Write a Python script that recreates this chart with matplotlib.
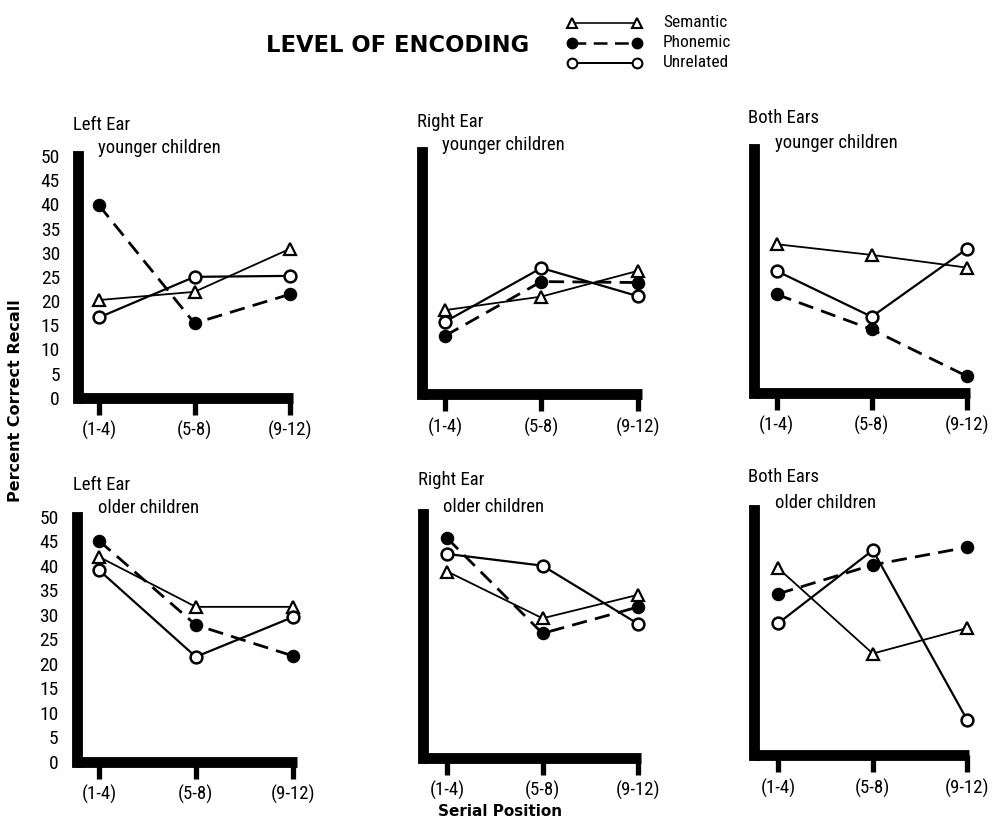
import matplotlib
matplotlib.use('Agg')
import matplotlib.pyplot as plt
from matplotlib import font_manager as fm

# ---------------- data ----------------
categories = ['(1-4)', '(5-8)', '(9-12)']
y_ticks = [0, 5, 10, 15, 20, 25, 30, 35, 40, 45, 50]
y_tick_labels = [str(v) for v in y_ticks]
series_names = ['Semantic', 'Phonemic', 'Unrelated']
ear_labels = ['Left Ear', 'Right Ear', 'Both Ears']
age_labels = ['younger children', 'older children']

left_young_semantic = [20.2, 21.9, 30.8]
left_young_phonemic = [39.8, 15.4, 21.4]
left_young_unrelated = [16.6, 25.0, 25.2]
right_young_semantic = [17.3, 20.1, 25.4]
right_young_phonemic = [12.0, 23.2, 23.0]
right_young_unrelated = [14.9, 26.0, 20.2]
both_young_semantic = [30.5, 28.3, 25.7]
both_young_phonemic = [20.2, 13.0, 3.4]
both_young_unrelated = [25.0, 15.6, 29.5]

left_old_semantic = [41.8, 31.6, 31.6]
left_old_phonemic = [45.1, 27.9, 21.6]
left_old_unrelated = [39.1, 21.4, 29.5]
right_old_semantic = [38.2, 28.6, 33.4]
right_old_phonemic = [45.0, 25.5, 30.9]
right_old_unrelated = [41.8, 39.4, 27.5]
both_old_semantic = [38.1, 20.7, 25.9]
both_old_phonemic = [32.9, 38.8, 42.4]
both_old_unrelated = [26.9, 41.8, 7.1]

panels_data = [
    [(left_young_semantic, left_young_phonemic, left_young_unrelated),
     (right_young_semantic, right_young_phonemic, right_young_unrelated),
     (both_young_semantic, both_young_phonemic, both_young_unrelated)],
    [(left_old_semantic, left_old_phonemic, left_old_unrelated),
     (right_old_semantic, right_old_phonemic, right_old_unrelated),
     (both_old_semantic, both_old_phonemic, both_old_unrelated)],
]

# ---------------- fonts ----------------
names = {f.name for f in fm.fontManager.ttflist}
COND = None
for cand in ['Liberation Sans Narrow', 'Roboto Condensed', 'Open Sans Condensed', 'DejaVu Sans']:
    if cand in names:
        COND = cand
        break
COND_FAM = [COND, 'DejaVu Sans']
BOLD_FAM = ['DejaVu Sans']

# ---------------- layout (pixels) ----------------
W, H = 995, 818
fig = plt.figure(figsize=(W / 100, H / 100), dpi=100)
fig.patch.set_facecolor('white')

def fx(x):
    return x / W

def fy(y):
    return 1 - y / H

# left, bottom, top, tick0, tick2, right  (pixel coords from top-left)
geom = [
    [(78, 397.7, 156, 99, 290, 293),
     (422, 394, 151.7, 445, 637.7, 641.7),
     (754, 392.7, 149.3, 776.7, 966.7, 970)],
    [(76.5, 761.7, 516.7, 99, 292.7, 296.7),
     (423, 757.7, 514, 447.3, 637.7, 641),
     (754, 755, 510, 778.3, 967.3, 969.3)],
]
title_pos = [
    [((73, 125), (98, 148)), ((417, 122), (442, 145)), ((748, 118), (775, 143))],
    [((73, 485), (98, 508)), ((418, 480), (443, 507)), ((748, 477), (775, 503))],
]

styles = {
    'Semantic': dict(color='black', lw=1.3, ls='-', marker='^', ms=8.5,
                     mfc='white', mec='black', mew=1.6),
    'Phonemic': dict(color='black', lw=2.0, ls=(0, (5.5, 3.0)), marker='o', ms=8.5,
                     mfc='black', mec='black', mew=1.2),
    'Unrelated': dict(color='black', lw=1.6, ls='-', marker='o', ms=8.5,
                      mfc='white', mec='black', mew=1.8),
}

xs = list(range(len(categories)))

for r in range(2):
    for c in range(3):
        left, bottom, top, t0, t2, right = geom[r][c]
        ax = fig.add_axes([fx(left), fy(bottom), (right - left) / W, (bottom - top) / H])
        sp = (t2 - t0) / 2.0
        ax.set_xlim((left - t0) / sp, (right - t0) / sp)
        ax.set_ylim(0, 50)
        ax.patch.set_alpha(0)
        for s in ['top', 'right']:
            ax.spines[s].set_visible(False)
        ax.spines['left'].set_linewidth(7.8)
        ax.spines['left'].set_capstyle('projecting')
        ax.spines['bottom'].set_linewidth(7.8)
        ax.spines['bottom'].set_capstyle('butt')
        ax.spines['left'].set_zorder(1)
        ax.spines['bottom'].set_zorder(1)

        sem, pho, unr = panels_data[r][c]
        for name, vals in zip(series_names, (sem, pho, unr)):
            st = styles[name]
            ax.plot(xs, vals, color=st['color'], lw=st['lw'], ls=st['ls'],
                    marker=st['marker'], ms=st['ms'], mfc=st['mfc'],
                    mec=st['mec'], mew=st['mew'], clip_on=False, zorder=3,
                    dash_capstyle='butt')

        ax.set_xticks(xs)
        ax.set_xticklabels(categories, family=COND_FAM, fontsize=13.5)
        ax.tick_params(axis='x', direction='out', length=12, width=3.8, pad=5,
                       color='black')
        ax.set_yticks(y_ticks)
        if c == 0:
            ax.set_yticklabels(y_tick_labels, family=COND_FAM, fontsize=14)
            ax.tick_params(axis='y', length=0, pad=13)
        else:
            ax.set_yticklabels([])
            ax.tick_params(axis='y', length=0)

        (ex, ey), (agx, agy) = title_pos[r][c]
        fig.text(fx(ex), fy(ey), ear_labels[c], family=COND_FAM, fontsize=13.5,
                 ha='left', va='center')
        fig.text(fx(agx), fy(agy), age_labels[r], family=COND_FAM, fontsize=13.5,
                 ha='left', va='center')

# axis titles
fig.text(fx(16), fy(401), 'Percent Correct Recall', rotation=90, ha='center',
         va='center', family=BOLD_FAM, fontweight='bold', fontsize=11.5)
fig.text(fx(500), fy(811), 'Serial Position', ha='center', va='center',
         family=BOLD_FAM, fontweight='bold', fontsize=11)

# main title
fig.text(fx(398), fy(45), 'LEVEL OF ENCODING', ha='center', va='center',
         family=BOLD_FAM, fontweight='bold', fontsize=16.3)

# legend (drawn in a pixel-coordinate overlay)
lax = fig.add_axes([0, 0, 1, 1])
lax.set_xlim(0, W)
lax.set_ylim(H, 0)
lax.axis('off')
leg_rows = [22.7, 42.7, 62.7]
for name, yrow in zip(series_names, leg_rows):
    st = styles[name]
    lax.plot([572, 637], [yrow, yrow], color='black', lw=st['lw'] * 0.9, ls=st['ls'],
             marker=st['marker'], ms=7, mfc=st['mfc'], mec='black', mew=1.5,
             dash_capstyle='butt')
    lax.text(663, yrow, name, family=COND_FAM, fontsize=12.5, ha='left', va='center')

fig.savefig('out.png', dpi=100, facecolor='white')
